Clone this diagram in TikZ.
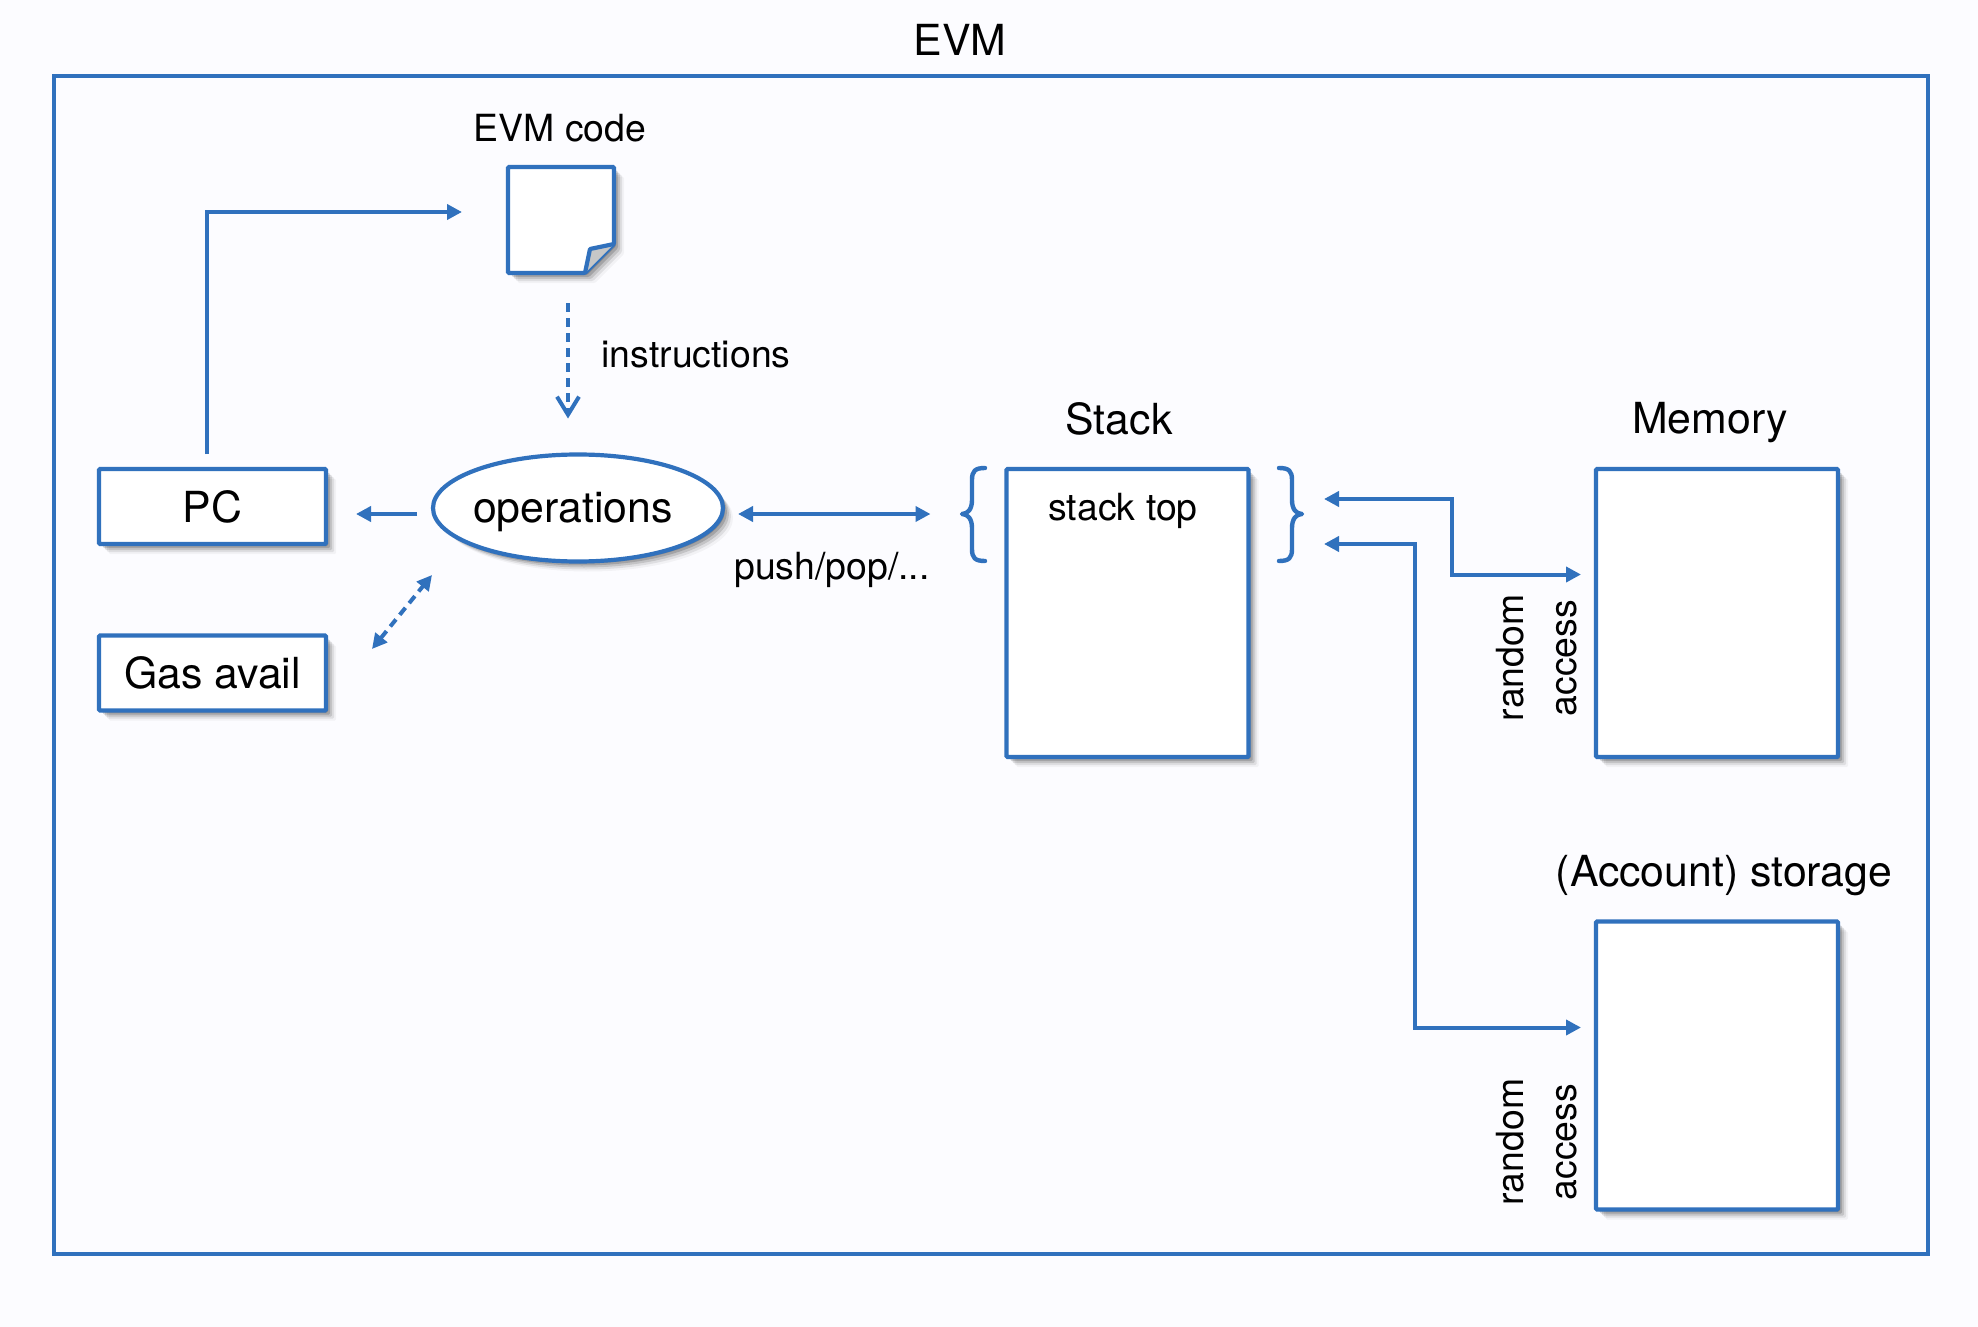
\documentclass[tikz,border=0pt]{standalone}
\usepackage{fontspec}
\setmainfont{TeX Gyre Heros}
\usetikzlibrary{arrows.meta,shapes.geometric,shadows,calc}
\definecolor{ebg}{HTML}{FCFCFF}
\definecolor{eblue}{HTML}{3071BD}
\tikzset{
  softshadow/.style={
    general shadow={fill=black,opacity=.16,shadow xshift=1pt,shadow yshift=-1pt},
    general shadow={fill=black,opacity=.16,shadow xshift=2pt,shadow yshift=-2pt},
    general shadow={fill=black,opacity=.12,shadow xshift=3pt,shadow yshift=-3pt},
    general shadow={fill=black,opacity=.08,shadow xshift=4pt,shadow yshift=-4pt},
    general shadow={fill=black,opacity=.04,shadow xshift=5pt,shadow yshift=-5pt}},
  box/.style={draw=eblue,line width=2.1pt,fill=white,inner sep=0pt,outer sep=0pt,softshadow,rounded corners=.6pt},
  big/.style={font=\fontsize{21.4}{24}\selectfont,inner sep=0pt},
  small/.style={font=\fontsize{18.7}{22}\selectfont,inner sep=0pt},
  conn/.style={draw=eblue,line width=2pt},
  tipped/.style={conn,-{Triangle[length=7.5pt,width=7.5pt]}},
  twotipped/.style={conn,{Triangle[length=7.5pt,width=7.5pt]}-{Triangle[length=7.5pt,width=7.5pt]}},
  dashstyle/.style={dash pattern=on 4.5pt off 3pt},
  bracestyle/.style={conn,line width=2.2pt,line cap=round,line join=round}
}
\begin{document}
\begin{tikzpicture}[x=0.5pt,y=-0.5pt]
\useasboundingbox (0,0) rectangle (1978,1327);
\fill[ebg] (0,0) rectangle (1978,1327);
% outer frame
\node[draw=eblue,line width=2pt,inner sep=0pt,outer sep=0pt,minimum width=937pt,minimum height=589pt] (evm) at (991,665) {};
\node[big] (evmt) at (960,40) {EVM};
% boxes
\node[box,minimum width=113.5pt,minimum height=37.5pt] (pc) at (212.5,506.5) {};
\node[big] at (212.5,507) {PC};
\node[box,minimum width=113.5pt,minimum height=37.5pt] (gas) at (212.5,673) {};
\node[big] at (212.5,673) {Gas avail};
\node[box,ellipse,minimum width=145pt,minimum height=53.5pt,rounded corners=0pt] (ops) at (578,508) {};
\node[big] at (573,512) {operations};
\node[box,minimum width=121pt,minimum height=144pt] (stack) at (1127.5,613) {};
\node[small] at (1123,511) {stack top};
\node[big] (stackt) at (1119,419) {Stack};
\node[box,minimum width=121pt,minimum height=144pt] (mem) at (1717,613) {};
\node[big] (memt) at (1710,423) {Memory};
\node[box,minimum width=121pt,minimum height=144pt] (sto) at (1717,1065.5) {};
\node[big] (stot) at (1724,876) {(Account) storage};
% document
\node[inner sep=0pt,outer sep=0pt,minimum width=53pt,minimum height=53pt] (doc) at (561,220) {};
\draw[box] (doc.north west) -- (doc.north east) -- (614,244) -- (585,273) -- (doc.south west) -- cycle;
\fill[black!22] (590,249) -- (614,244) -- (585,273) -- cycle;
\draw[conn,line width=2.1pt,line join=round] (614,244) -- (590,249) -- (585,273);
\node[small] (doct) at (560,128) {EVM code};
\node[small] (instr) at (696,355) {instructions};
\node[small] (push) at (832,570) {push/pop/...};
% random access labels
\node[small,rotate=90] at (1510,658) {random};
\node[small,rotate=90] at (1567,658) {access};
\node[small,rotate=90] at (1510,1142) {random};
\node[small,rotate=90] at (1567,1142) {access};
% braces
\draw[bracestyle] (985,468) .. controls (975,468) and (972,471) .. (972,480) -- (972,500) .. controls (972,509) and (968,514) .. (962,514) .. controls (968,514) and (972,519) .. (972,528) -- (972,549) .. controls (972,558) and (975,561) .. (985,561);
\draw[bracestyle] (1279,468) .. controls (1289,468) and (1292,471) .. (1292,480) -- (1292,500) .. controls (1292,509) and (1296,514) .. (1302,514) .. controls (1296,514) and (1292,519) .. (1292,528) -- (1292,549) .. controls (1292,558) and (1289,561) .. (1279,561);
% connectors
\draw[tipped] ([shift={(-6,-15)}]pc.north) |- ([shift={(-46,-8)}]doc.west);
\draw[conn,dashstyle,-{Straight Barb[length=9pt,width=11pt]}] ([shift={(7,30)}]doc.south) -- ([shift={(-10,-36)}]ops.north);
\draw[tipped] ([shift={(-16,6)}]ops.west) -- ([shift={(30,7.5)}]pc.east);
\draw[twotipped,dashstyle] ([shift={(46,-24)}]gas.east) -- ([shift={(-1,67)}]ops.west);
\draw[twotipped] ([shift={(15,6)}]ops.east) -- ([shift={(-76,-99)}]stack.west);
\draw[twotipped] ([shift={(75.5,30)}]stack.north east) -- ++(128,0) -- ++(0,75.5) -- ([shift={(-15,-38.5)}]mem.west);
\draw[twotipped] ([shift={(75.5,75)}]stack.north east) -- ++(91,0) -- ++(0,483.5) -- ([shift={(-15,-38)}]sto.west);
\end{tikzpicture}
\end{document}
